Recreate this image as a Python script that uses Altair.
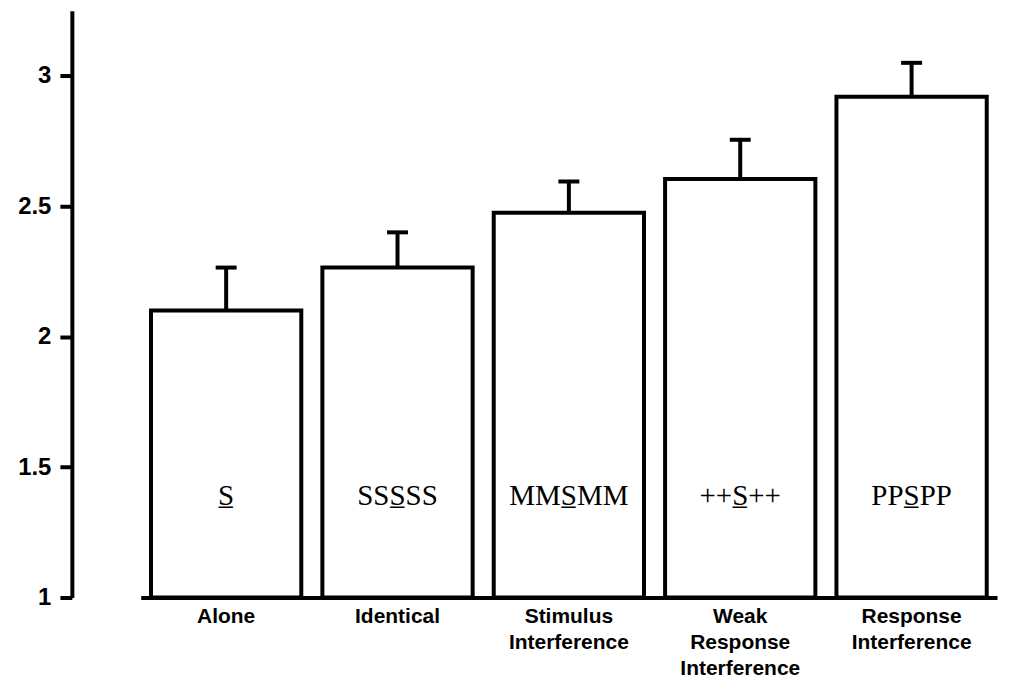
import altair as alt
import pandas as pd

categories = ["Alone", "Identical", "Stimulus Interference", "Weak Response Interference", "Response Interference"]
axis_labels = ["Alone", "Identical", "Stimulus\nInterference", "Weak\nResponse\nInterference", "Response\nInterference"]
means = [2.10, 2.265, 2.475, 2.605, 2.92]
upper = [2.265, 2.40, 2.595, 2.755, 3.05]
stimuli = ["S\u0332", "SSS\u0332SS", "MMS\u0332MM", "++S\u0332++", "PPS\u0332PP"]

df = pd.DataFrame({"cat": axis_labels, "mean": means, "upper": upper, "stim": stimuli})

xenc = alt.X(
    "cat:N",
    sort=axis_labels,
    title=None,
    scale=alt.Scale(range=[69, 927], paddingInner=0.123, paddingOuter=0.06),
    axis=alt.Axis(
        labelAngle=0,
        labelExpr="split(datum.label, '\\n')",
        labelFont="Liberation Sans",
        labelFontWeight="bold",
        labelFontSize=21,
        labelColor="black",
        labelLineHeight=26,
        labelPadding=8,
        labelBaseline="top",
        ticks=False,
        domainColor="black",
        domainWidth=4,
    ),
)

yscale = alt.Scale(domain=[1, 3.25], zero=False, nice=False)
yaxis = alt.Axis(
    values=[1, 1.5, 2, 2.5, 3],
    labelExpr="'' + datum.value",
    labelFont="Liberation Sans",
    labelFontWeight="bold",
    labelFontSize=24,
    labelColor="black",
    labelPadding=9,
    tickSize=12,
    tickWidth=4,
    tickColor="black",
    domainColor="black",
    domainWidth=4,
    grid=False,
)

base = alt.Chart(df)

bars = base.mark_bar(fill="white", stroke="black", strokeWidth=4, opacity=1).encode(
    x=xenc,
    y=alt.Y("mean:Q", scale=yscale, axis=yaxis, title=None),
    y2=alt.datum(1),
)

err = base.mark_rule(color="black", strokeWidth=4, opacity=1).encode(
    x=alt.X("cat:N", sort=axis_labels),
    y="mean:Q",
    y2="upper:Q",
)

cap = base.mark_tick(color="black", thickness=4, size=21, opacity=1).encode(
    x=alt.X("cat:N", sort=axis_labels),
    y="upper:Q",
)

txt = base.mark_text(font="Liberation Serif", fontSize=29, color="black", baseline="middle").encode(
    x=alt.X("cat:N", sort=axis_labels),
    y=alt.datum(1.39),
    text="stim:N",
)

chart = alt.layer(bars, err, cap, txt).properties(
    width=928,
    height=588,
    background="white",
    autosize=alt.AutoSizeParams(type="none"),
    padding={"left": 64, "top": 2, "right": 5, "bottom": 80},
).configure_view(stroke=None)

chart.save("out.html", embed_options={"renderer": "svg", "actions": False})
